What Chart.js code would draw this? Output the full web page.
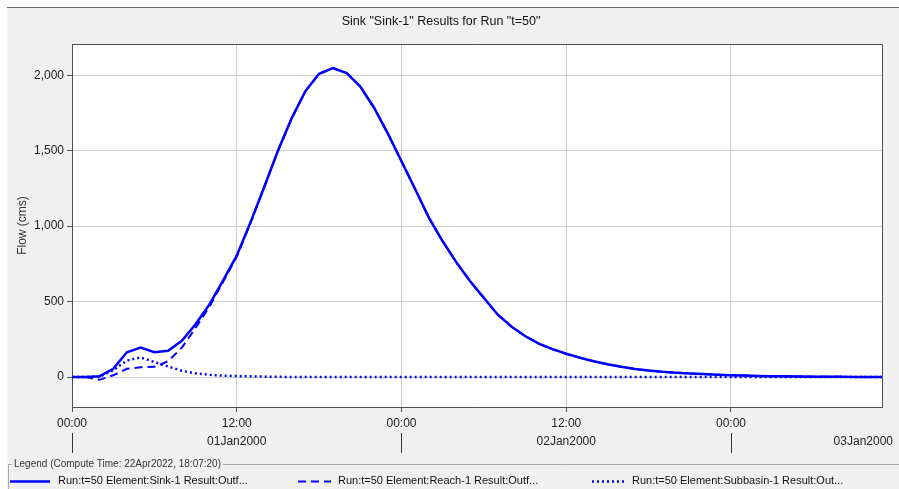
<!DOCTYPE html>
<html><head><meta charset="utf-8">
<script src="https://cdn.jsdelivr.net/npm/chart.js@4/dist/chart.umd.min.js"></script>
<style>html,body{margin:0;padding:0;background:#fff;overflow:hidden}#wrap{width:899px;height:489px;position:relative}canvas{display:block}</style>
</head><body><div id="wrap"><canvas id="c" width="899" height="489"></canvas></div>
<script>
// ---- data (hours from 01Jan2000 00:00) ----
const hours = [0,1,2,3,4,5,6,7,8,9,10,11,12,13,14,15,16,17,18,19,20,21,22,23,24,25,26,27,28,29,30,31,32,33,34,35,36,37,38,39,40,41,42,43,44,45,46,47,48,49,50,51,52,53,54,55,56,57,58,59];
const sinkFlow = [0,0,5,55,165,195,165,175,240,350,480,640,805,1025,1260,1500,1715,1895,2010,2048,2015,1925,1785,1615,1430,1245,1055,900,760,635,525,415,335,272,222,185,155,128,105,85,68,54,44,35,29,24,20,16,13,10,8,6,5,4,3,2,2,1,1,1];
const reachFlow = [0,0,-18,12,55,65,68,105,195,325,465,630,798,1020,1257,1498,1714,1894,2010,2048,2015,1925,1785,1615,1430,1245,1055,900,760,635,525,415,335,272,222,185,155,128,105,85,68,54,44,35,29,24,20,16,13,10,8,6,5,4,3,2,2,1,1,1];
const subbasinFlow = [0,0,3,45,110,130,100,70,42,25,15,10,7,5,3,2,1,1,0,0,0,0,0,0,0,0,0,0,0,0,0,0,0,0,0,0,0,0,0,0,0,0,0,0,0,0,0,0,0,0,0,0,0,0,0,0,0,0,0,0];
const seriesNames = ['Run:t=50 Element:Sink-1 Result:Outf...','Run:t=50 Element:Reach-1 Result:Outf...','Run:t=50 Element:Subbasin-1 Result:Out...'];
const yTickValues = [0,500,1000,1500,2000];
const xTickValues = [0,12,24,36,48];
const timeTickLabels = ['00:00','12:00'];
const dayLabels = ['01Jan2000','02Jan2000','03Jan2000'];
const titleText = 'Sink "Sink-1" Results for Run "t=50"';
const yAxisTitle = 'Flow (cms)';
const legendTitle = 'Legend (Compute Time: 22Apr2022, 18:07:20)';

const FONT = '"Liberation Sans", Arial, sans-serif';
const toXY = arr => hours.map((h,i)=>({x:h,y:arr[i]}));

const framePlugin = {
  id:'frame',
  beforeDraw(chart){
    const {ctx, chartArea:a} = chart;
    ctx.save();
    ctx.fillStyle='#ffffff'; ctx.fillRect(0,0,chart.width,chart.height);
    ctx.fillStyle='#f0f0f0'; ctx.fillRect(7,7,chart.width-7,chart.height-7);
    ctx.strokeStyle='#6a6a6a'; ctx.lineWidth=1;
    ctx.beginPath(); ctx.moveTo(7,7.5); ctx.lineTo(chart.width,7.5); ctx.stroke();
    ctx.fillStyle='#ffffff'; ctx.fillRect(a.left,a.top,a.right-a.left,a.bottom-a.top);
    ctx.restore();
  },
  afterDraw(chart){
    const {ctx, chartArea:a} = chart;
    const xs = chart.scales.x;
    ctx.save();
    ctx.strokeStyle='#505050'; ctx.lineWidth=1;
    ctx.beginPath();
    ctx.moveTo(a.left, Math.round(a.top)+0.5); ctx.lineTo(Math.round(a.right)+0.5, Math.round(a.top)+0.5);
    ctx.lineTo(Math.round(a.right)+0.5, a.bottom); ctx.stroke();
    ctx.font = '12px '+FONT; ctx.fillStyle='#222'; ctx.textBaseline='middle';
    const yDay = 442;
    dayLabels.forEach((d,i)=>{
      const c = xs.getPixelForValue(i*24+12);
      const w = ctx.measureText(d).width;
      let x = c;
      ctx.textAlign='center';
      if (c + w/2 > chart.width-6){ ctx.textAlign='right'; x = chart.width-6; }
      ctx.fillText(d, x, yDay);
    });
    ctx.strokeStyle='#333'; ctx.lineWidth=1;
    [0,24,48].forEach(v=>{
      const px = Math.round(xs.getPixelForValue(v))+0.5;
      ctx.beginPath(); ctx.moveTo(px,433); ctx.lineTo(px,453); ctx.stroke();
    });
    ctx.font = '10px '+FONT; ctx.fillStyle='#333'; ctx.textAlign='left';
    const ly = 464;
    ctx.fillText(legendTitle, 14, ly);
    const tw = ctx.measureText(legendTitle).width;
    ctx.strokeStyle='#a8a8a8';
    ctx.beginPath();
    ctx.moveTo(8.5,489); ctx.lineTo(8.5,ly+0.5); ctx.lineTo(12,ly+0.5);
    ctx.moveTo(14+tw+2,ly+0.5); ctx.lineTo(chart.width,ly+0.5);
    ctx.stroke();
    const itemX = [10,298,592];
    const iy = 481;
    chart.data.datasets.forEach((ds,i)=>{
      const x0 = itemX[i];
      ctx.save();
      ctx.strokeStyle = ds.borderColor; ctx.lineWidth = ds.borderWidth;
      ctx.setLineDash(ds.borderDash||[]);
      ctx.beginPath(); ctx.moveTo(x0, iy+0.5); ctx.lineTo(x0 + (i===0?40:33), iy+0.5); ctx.stroke();
      ctx.restore();
      ctx.font='11px '+FONT; ctx.fillStyle='#111'; ctx.textAlign='left'; ctx.textBaseline='middle';
      ctx.fillText(ds.label, x0 + (i===0?48:40), iy);
    });
    ctx.restore();
  }
};

new Chart(document.getElementById('c'), {
  type:'line',
  data:{datasets:[
    {label:seriesNames[0], data:toXY(sinkFlow), borderColor:'#0000ff', borderWidth:2.5, pointRadius:0, tension:0, fill:false},
    {label:seriesNames[1], data:toXY(reachFlow), borderColor:'#0000ff', borderWidth:2, borderDash:[8,5], pointRadius:0, tension:0, fill:false},
    {label:seriesNames[2], data:toXY(subbasinFlow), borderColor:'#0000ff', borderWidth:2.5, borderDash:[2,3], pointRadius:0, tension:0, fill:false}
  ]},
  options:{
    responsive:false, animation:false, devicePixelRatio:1,
    layout:{padding:{left:0,right:17,top:0,bottom:0}},
    plugins:{
      legend:{display:false}, tooltip:{enabled:false},
      title:{display:true, text:titleText, color:'#111', font:{family:FONT,size:12.5,weight:'normal'}, padding:{top:14,bottom:15}}
    },
    scales:{
      x:{type:'linear', min:0, max:59,
        afterFit(s){ s.height = 82; },
        afterBuildTicks(s){ s.ticks = xTickValues.map(v=>({value:v})); },
        grid:{color:'#cfcfcf', lineWidth:1, tickColor:'#505050', tickLength:5},
        border:{color:'#505050', width:1},
        ticks:{autoSkip:false, maxRotation:0, padding:4, color:'#222', font:{family:FONT,size:12},
          callback:v=> timeTickLabels[(v%24===0)?0:1]}
      },
      y:{min:-198, max:2207,
        afterFit(s){ s.width = 72; },
        afterBuildTicks(s){ s.ticks = yTickValues.map(v=>({value:v})); },
        grid:{color:'#cfcfcf', lineWidth:1, tickColor:'#505050', tickLength:5},
        border:{color:'#505050', width:1},
        title:{display:true, text:yAxisTitle, color:'#333', font:{family:FONT,size:12}, padding:{top:15,bottom:0}},
        ticks:{autoSkip:false, padding:3, color:'#222', font:{family:FONT,size:12},
          callback:v=> v.toLocaleString('en-US')}
      }
    }
  },
  plugins:[framePlugin]
});
</script></body></html>
